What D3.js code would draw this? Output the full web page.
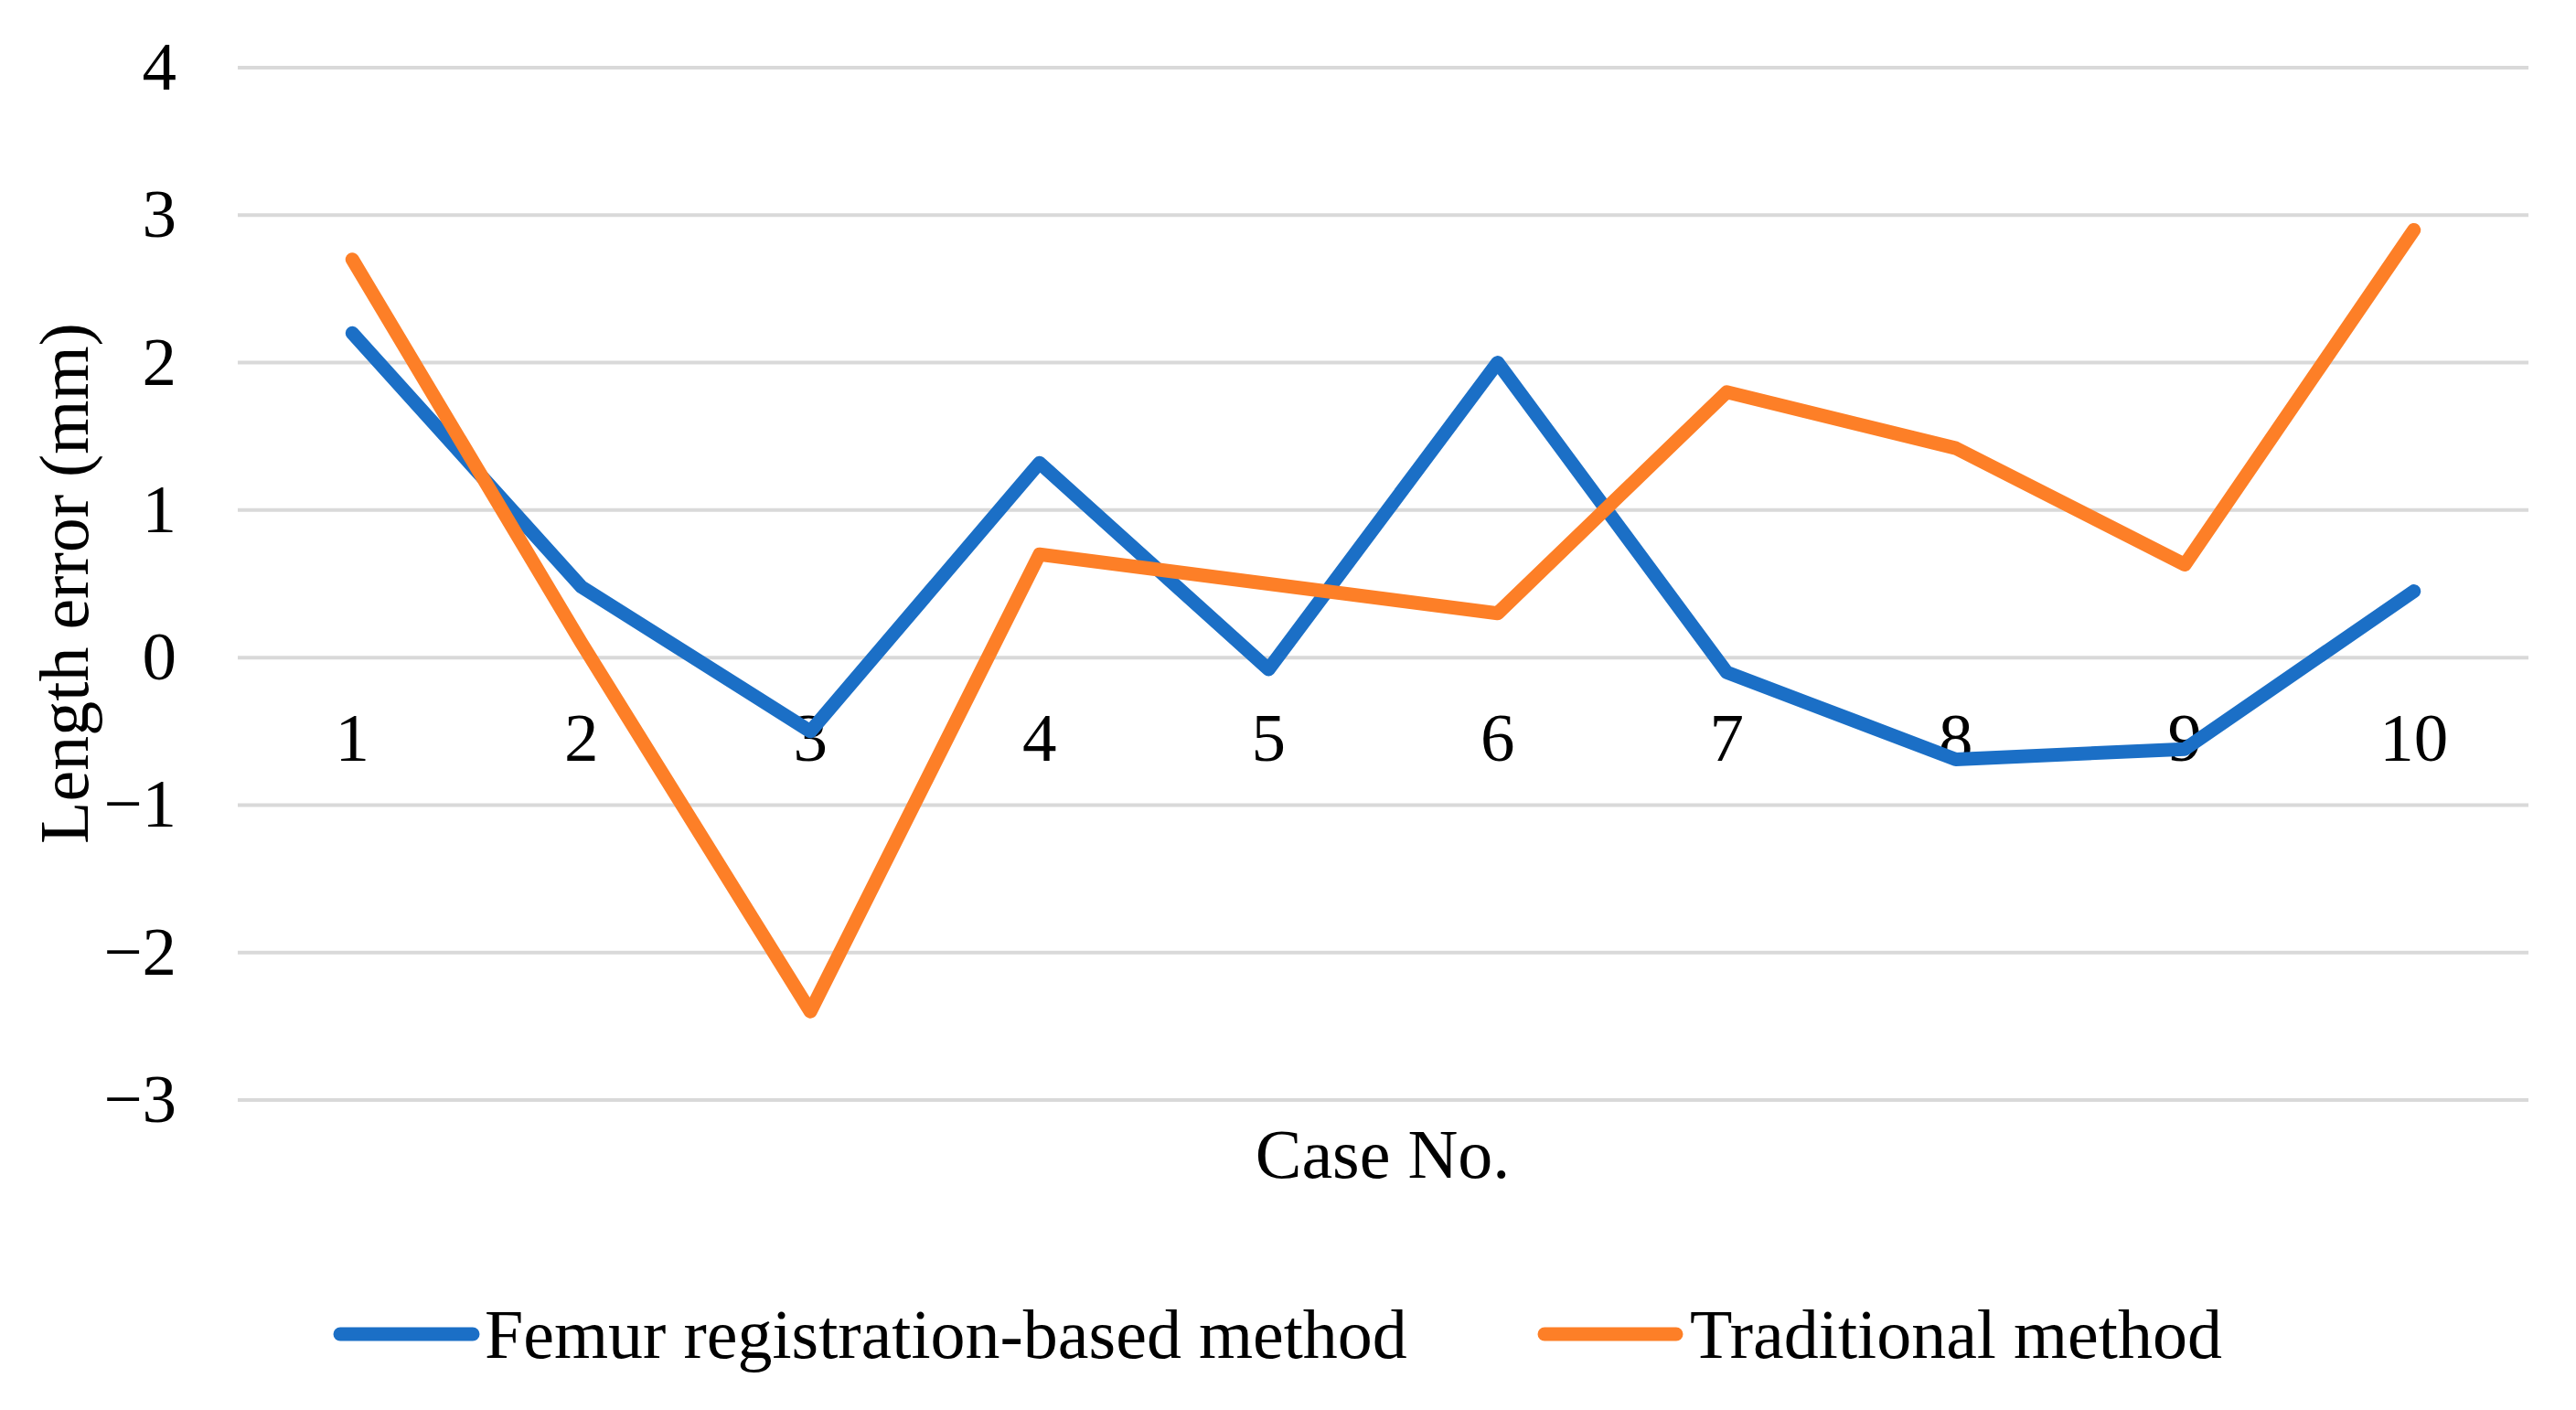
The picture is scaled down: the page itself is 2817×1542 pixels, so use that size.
<!DOCTYPE html>
<html><head><meta charset="utf-8">
<script src="https://cdn.jsdelivr.net/npm/d3@7"></script>
<style>html,body{margin:0;padding:0;background:#fff;}</style>
</head><body>
<script>
const categories = ["1","2","3","4","5","6","7","8","9","10"];
const femurValues = [2.2, 0.48, -0.5, 1.32, -0.08, 2.0, -0.1, -0.69, -0.62, 0.45];
const traditionalValues = [2.7, 0.1, -2.4, 0.7, 0.5, 0.3, 1.8, 1.42, 0.63, 2.9];
const yTicks = [-3, -2, -1, 0, 1, 2, 3, 4];
const seriesNames = ["Femur registration-based method", "Traditional method"];
const colors = ["#1B6FC6", "#FD7F27"];

const W = 2817, H = 1542;
const svg = d3.select("body").append("svg").attr("width", W).attr("height", H)
  .style("font-family", "'Liberation Serif','Times New Roman',serif");

const x = d3.scaleBand().domain(categories).range([260, 2765]);
const y = d3.scaleLinear().domain([-3, 4]).range([1203, 74]);
const font = 75;

// gridlines
svg.append("g").selectAll("line").data(yTicks).join("line")
  .attr("x1", 260).attr("x2", 2765)
  .attr("y1", d => y(d)).attr("y2", d => y(d))
  .attr("stroke", "#d9d9d9").attr("stroke-width", 4);

// y tick labels
svg.append("g").selectAll("text").data(yTicks).join("text")
  .attr("x", 193).attr("y", d => y(d) + 24)
  .attr("text-anchor", "end").attr("font-size", font).attr("fill", "#000")
  .text(d => d < 0 ? "\u2212" + Math.abs(d) : d);

// x tick labels (at y=0 axis, below)
svg.append("g").selectAll("text").data(categories).join("text")
  .attr("x", d => x(d) + x.bandwidth() / 2).attr("y", y(0) + 113)
  .attr("text-anchor", "middle").attr("font-size", font).attr("fill", "#000")
  .text(d => d);

// lines
const line = d3.line().x((d, i) => x(categories[i]) + x.bandwidth() / 2).y(d => y(d));
[femurValues, traditionalValues].forEach((vals, k) => {
  svg.append("path").datum(vals).attr("d", line)
    .attr("fill", "none").attr("stroke", colors[k]).attr("stroke-width", 15)
    .attr("stroke-linejoin", "round").attr("stroke-linecap", "round");
});

// axis titles
svg.append("text").attr("x", 1512).attr("y", 1288).attr("text-anchor", "middle")
  .attr("font-size", font + 1).text("Case No.");
svg.append("text").attr("transform", "translate(96,638) rotate(-90)")
  .attr("text-anchor", "middle").attr("font-size", font + 1).text("Length error (mm)");

// legend
const legendX = [[372, 517, 530], [1689, 1833, 1848]];
seriesNames.forEach((n, k) => {
  const g = svg.append("g");
  g.append("line").attr("x1", legendX[k][0]).attr("x2", legendX[k][1])
    .attr("y1", 1459).attr("y2", 1459).attr("stroke", colors[k])
    .attr("stroke-width", 15).attr("stroke-linecap", "round");
  g.append("text").attr("x", legendX[k][2]).attr("y", 1485)
    .attr("font-size", font + 1).text(n);
});
</script>
</body></html>
